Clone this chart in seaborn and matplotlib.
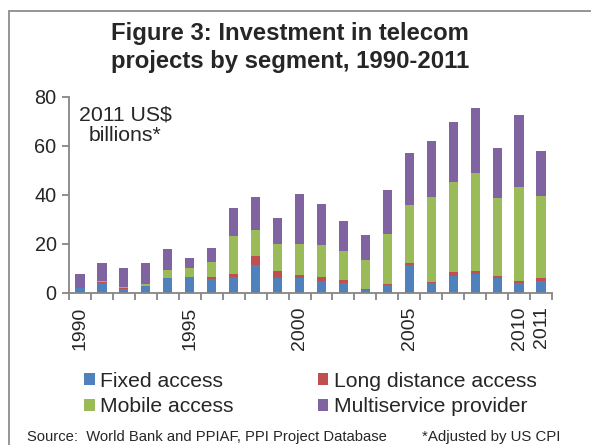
import matplotlib
matplotlib.use("Agg")
import matplotlib.pyplot as plt
import seaborn as sns
import numpy as np
import pandas as pd
from matplotlib.patches import Rectangle, Patch

years = [str(y) for y in range(1990, 2012)]
fixed = [1.9, 3.9, 1.4, 2.7, 6.0, 6.4, 5.7, 6.4, 11.3, 6.1, 6.0, 4.9, 3.7, 1.2, 3.1, 11.3, 3.7, 6.8, 7.6, 6.0, 3.9, 4.8]
long_distance = [0.2, 0.4, 0.6, 0.1, 0.1, 0.1, 0.7, 1.2, 3.5, 2.6, 1.1, 1.5, 1.5, 0.1, 0.5, 0.7, 0.8, 1.6, 1.2, 0.8, 0.8, 1.1]
mobile = [0.3, 0.4, 0.1, 0.6, 3.3, 3.4, 6.0, 15.4, 10.6, 11.3, 12.6, 12.9, 11.7, 11.8, 20.4, 23.8, 34.4, 37.0, 39.9, 31.8, 38.6, 33.7]
multiservice = [5.1, 7.3, 7.8, 8.8, 8.4, 4.1, 5.7, 11.7, 13.6, 10.5, 20.7, 17.0, 12.4, 10.6, 18.0, 21.4, 22.9, 24.4, 26.8, 20.5, 29.5, 18.1]
series_names = ["Fixed access", "Long distance access", "Mobile access", "Multiservice provider"]
colors = ["#4F81BD", "#C0504D", "#9BBB59", "#8064A2"]
label_years = ["1990", "1995", "2000", "2005", "2010", "2011"]

sns.set_style("white")
plt.rcParams["font.family"] = ["Liberation Sans", "DejaVu Sans"]

fig = plt.figure(figsize=(5.91, 4.45), dpi=100)
ax = fig.add_axes([69/591, 1-292.5/445, (552-69)/591, (292.5-97)/445])

df = pd.DataFrame({"year": years, "fixed": fixed, "ld": long_distance,
                   "mobile": mobile, "multi": multiservice})
cum = df[["fixed", "ld", "mobile", "multi"]].cumsum(axis=1)
for col, c in zip(["multi", "mobile", "ld", "fixed"], [colors[3], colors[2], colors[1], colors[0]]):
    sns.barplot(x=df["year"], y=cum[col], color=c, width=0.42, ax=ax,
                saturation=1, edgecolor="none", linewidth=0)

ax.set_ylim(0, 80)
ax.set_xlim(-0.5, len(years) - 0.5)
ax.set_yticks([0, 20, 40, 60, 80])
ax.set_xlabel("")
ax.set_ylabel("")
for s in ["top", "right"]:
    ax.spines[s].set_visible(False)
for s in ["left", "bottom"]:
    ax.spines[s].set_color("#868686")
    ax.spines[s].set_linewidth(1.3)

pos = [years.index(y) for y in label_years]
ax.set_xticks(pos)
ax.set_xticklabels(label_years, rotation=90, fontsize=14)
ax.set_xticks(np.arange(-0.5, len(years), 1.0), minor=True)
ax.tick_params(axis="x", which="major", length=0, pad=10)
ax.tick_params(axis="x", which="minor", length=5, width=1.3, color="#868686", direction="out", bottom=True)
ax.tick_params(axis="y", which="major", length=5, width=1.3, color="#868686", direction="out", left=True, labelsize=14.3, pad=4)

fig.text(290/591, 1-47.5/445, "Figure 3: Investment in telecom\nprojects by segment, 1990-2011",
         ha="center", va="center", fontsize=17.2, fontweight="bold", linespacing=1.3)
fig.text(125.5/591, 1-125.5/445, "2011 US$\nbillions*", ha="center", va="center", fontsize=15.3, linespacing=1.1)

order = [0, 2, 1, 3]
handles = [Patch(facecolor=colors[i], edgecolor="none") for i in order]
labels = [series_names[i] for i in order]
fig.legend(handles, labels, ncol=2, loc="center left",
           bbox_to_anchor=(84/591, 1-394/445), frameon=False, fontsize=15.2,
           handlelength=0.5, handleheight=0.5, handletextpad=0.25,
           columnspacing=4.0, labelspacing=0.3, borderaxespad=0, borderpad=0)

fig.text(27/591, 1-437/445, "Source:  World Bank and PPIAF, PPI Project Database",
         ha="left", va="center", fontsize=10.6)
fig.text(422/591, 1-437/445, "*Adjusted by US CPI", ha="left", va="center", fontsize=10.8)

fig.patches.append(Rectangle((8.5/591, -0.1), 1.1, 1 - 11/445 + 0.1, transform=fig.transFigure,
                             fill=False, edgecolor="#8c8c8c", linewidth=1.3))

fig.savefig("out.png", dpi=100)
